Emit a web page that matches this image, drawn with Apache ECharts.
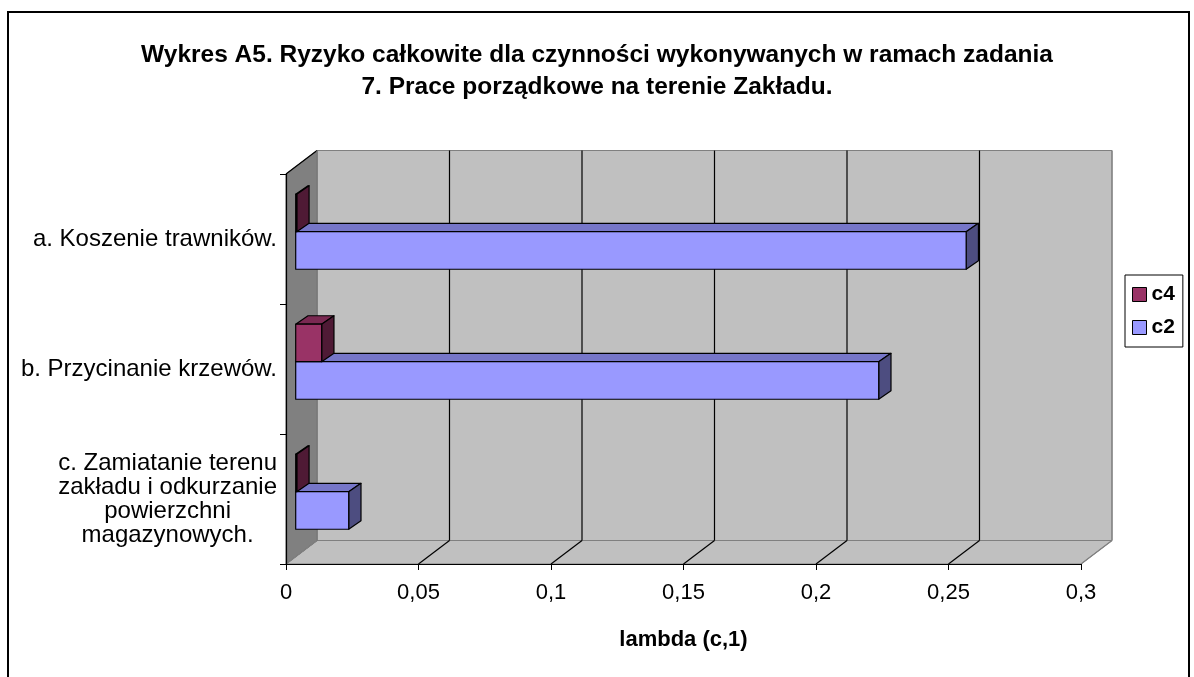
<!DOCTYPE html>
<html>
<head>
<meta charset="utf-8">
<script src="https://cdn.jsdelivr.net/npm/echarts@6/dist/echarts.min.js"></script>
<style>
  html, body { margin: 0; padding: 0; background: #fff; }
  #chart { width: 1194px; height: 677px; }
</style>
</head>
<body>
<div id="chart"></div>
<script>
// data
var categories = [
    'a. Koszenie trawników.',
    'b. Przycinanie krzewów.',
    'c. Zamiatanie terenu\nzakładu i odkurzanie\npowierzchni\nmagazynowych.'
];
var c4Values = [0.0004, 0.0098, 0.0004];
var c2Values = [0.253, 0.22, 0.02];
var xTicks = [0, 0.05, 0.1, 0.15, 0.2, 0.25, 0.3];

// 3d look: depth of the walls and of the bars
var DX = 31, DY = -23.5;     // back wall offset
var FX = 9.7, FY = -7.3;     // bar front face offset
var BX = 12.3, BY = -8.4;    // bar depth
var FONT = 'Liberation Sans, Arial, sans-serif';

var chart = echarts.init(document.getElementById('chart'));

function sceneryItem(params, api) {
    var cs = params.coordSys;
    var x0 = cs.x, y0 = cs.y, w = cs.width, h = cs.height;
    var t = api.value(0);
    var x = api.coord([t, 0])[0];
    var edge = (t === xTicks[0] || t === xTicks[xTicks.length - 1]);
    var lineCol = edge ? '#808080' : '#000';
    var children = [];
    if (params.dataIndex === 0) {
        children.push({
            type: 'rect',
            shape: { x: x0 + DX, y: y0 + DY, width: w, height: h },
            style: { fill: '#c0c0c0', stroke: '#808080', lineWidth: 1 }
        });
        children.push({
            type: 'polygon',
            shape: { points: [[x0, y0 + h], [x0 + w, y0 + h], [x0 + w + DX, y0 + h + DY], [x0 + DX, y0 + h + DY]] },
            style: { fill: '#c0c0c0', stroke: '#808080', lineWidth: 1 }
        });
        children.push({
            type: 'polygon',
            shape: { points: [[x0, y0], [x0 + DX, y0 + DY], [x0 + DX, y0 + h + DY], [x0, y0 + h]] },
            style: { fill: '#808080', stroke: '#606060', lineWidth: 1 }
        });
        children.push({
            type: 'line',
            shape: { x1: x0, y1: y0, x2: x0 + DX, y2: y0 + DY },
            style: { stroke: '#000', lineWidth: 1.2 }
        });
    }
    children.push({
        type: 'line',
        shape: { x1: x + DX, y1: y0 + DY, x2: x + DX, y2: y0 + h + DY },
        style: { stroke: lineCol, lineWidth: 1.2 }
    });
    children.push({
        type: 'line',
        shape: { x1: x, y1: y0 + h, x2: x + DX, y2: y0 + h + DY },
        style: { stroke: lineCol, lineWidth: 1.2 }
    });
    return { type: 'group', children: children };
}

function barRenderer(slot, front, topCol, sideCol) {
    return function (params, api) {
        var v = api.value(0), idx = api.value(1);
        var p0 = api.coord([0, idx]);
        var p1 = api.coord([v, idx]);
        var band = api.size([0, 1])[1];
        var h = band * 0.289;
        var top = p0[1] - h + slot * h;
        var xa = p0[0] + FX, xb = p1[0] + FX;
        var ya = top + FY, yb = ya + h;
        var st = { stroke: '#000', lineWidth: 1.2, lineJoin: 'round' };
        return {
            type: 'group',
            children: [
                {
                    type: 'polygon',
                    shape: { points: [[xa, ya], [xb, ya], [xb + BX, ya + BY], [xa + BX, ya + BY]] },
                    style: Object.assign({ fill: topCol }, st)
                },
                {
                    type: 'polygon',
                    shape: { points: [[xb, ya], [xb + BX, ya + BY], [xb + BX, yb + BY], [xb, yb]] },
                    style: Object.assign({ fill: sideCol }, st)
                },
                {
                    type: 'rect',
                    shape: { x: xa, y: ya, width: xb - xa, height: h },
                    style: Object.assign({ fill: front }, st)
                }
            ]
        };
    };
}

var option = {
    animation: false,
    title: {
        text: 'Wykres A5. Ryzyko całkowite dla czynności wykonywanych w ramach zadania\n7. Prace porządkowe na terenie Zakładu.',
        left: 'center',
        top: 34,
        textStyle: { fontFamily: FONT, fontSize: 24.5, fontWeight: 'bold', color: '#000', lineHeight: 32 }
    },
    legend: {
        orient: 'vertical',
        left: 1125,
        top: 275,
        data: ['c4', 'c2'],
        icon: 'rect',
        itemWidth: 14,
        itemHeight: 14,
        itemGap: 12,
        padding: [9, 8, 9, 7],
        borderColor: '#000',
        borderWidth: 1,
        backgroundColor: '#fff',
        itemStyle: { borderColor: '#000', borderWidth: 1 },
        textStyle: { fontFamily: FONT, fontSize: 21, fontWeight: 'bold', color: '#000' }
    },
    grid: { left: 286, top: 174, width: 795, height: 390 },
    xAxis: {
        type: 'value',
        min: 0,
        max: 0.3,
        interval: 0.05,
        z: 10,
        axisLine: { show: true, lineStyle: { color: '#000', width: 1.2 } },
        axisTick: { show: true, length: 6, lineStyle: { color: '#000' } },
        splitLine: { show: false },
        axisLabel: {
            margin: 18,
            fontFamily: FONT,
            fontSize: 22,
            color: '#000',
            formatter: function (v) { return String(+v.toFixed(2)).replace('.', ','); }
        },
        name: 'lambda (c,1)',
        nameLocation: 'middle',
        nameGap: 65,
        nameTextStyle: { fontFamily: FONT, fontSize: 22, fontWeight: 'bold', color: '#000' }
    },
    yAxis: {
        type: 'category',
        inverse: true,
        data: categories,
        z: 10,
        axisLine: { show: true, lineStyle: { color: '#000', width: 1.2 } },
        axisTick: { show: true, length: 6, lineStyle: { color: '#000' } },
        splitLine: { show: false },
        axisLabel: {
            margin: 9,
            fontFamily: FONT,
            fontSize: 24,
            color: '#000',
            lineHeight: 24,
            formatter: function (val) {
                if (val.indexOf('\n') < 0) return val;
                return val.split('\n').map(function (s) { return '{m|' + s + '}'; }).join('\n');
            },
            rich: { m: { align: 'center', fontFamily: FONT, fontSize: 24, color: '#000', lineHeight: 24 } }
        }
    },
    graphic: [{
        type: 'rect',
        shape: { x: 8, y: 12, width: 1181, height: 700 },
        style: { fill: 'none', stroke: '#000', lineWidth: 2 },
        silent: true
    }],
    series: [
        {
            type: 'custom',
            name: 'scenery',
            z: 1,
            silent: true,
            renderItem: sceneryItem,
            data: xTicks.map(function (t) { return [t, 0]; }),
            encode: { x: 0, y: 1 }
        },
        {
            type: 'custom',
            name: 'c2',
            z: 3,
            itemStyle: { color: '#9999ff' },
            renderItem: barRenderer(1, '#9999ff', '#7676c8', '#4d4d80'),
            data: c2Values.map(function (v, i) { return [v, i]; }),
            encode: { x: 0, y: 1 }
        },
        {
            type: 'custom',
            name: 'c4',
            z: 4,
            itemStyle: { color: '#993366' },
            renderItem: barRenderer(0, '#993366', '#7a2952', '#4f1a35'),
            data: c4Values.map(function (v, i) { return [v, i]; }),
            encode: { x: 0, y: 1 }
        }
    ]
};

chart.setOption(option);
</script>
</body>
</html>
